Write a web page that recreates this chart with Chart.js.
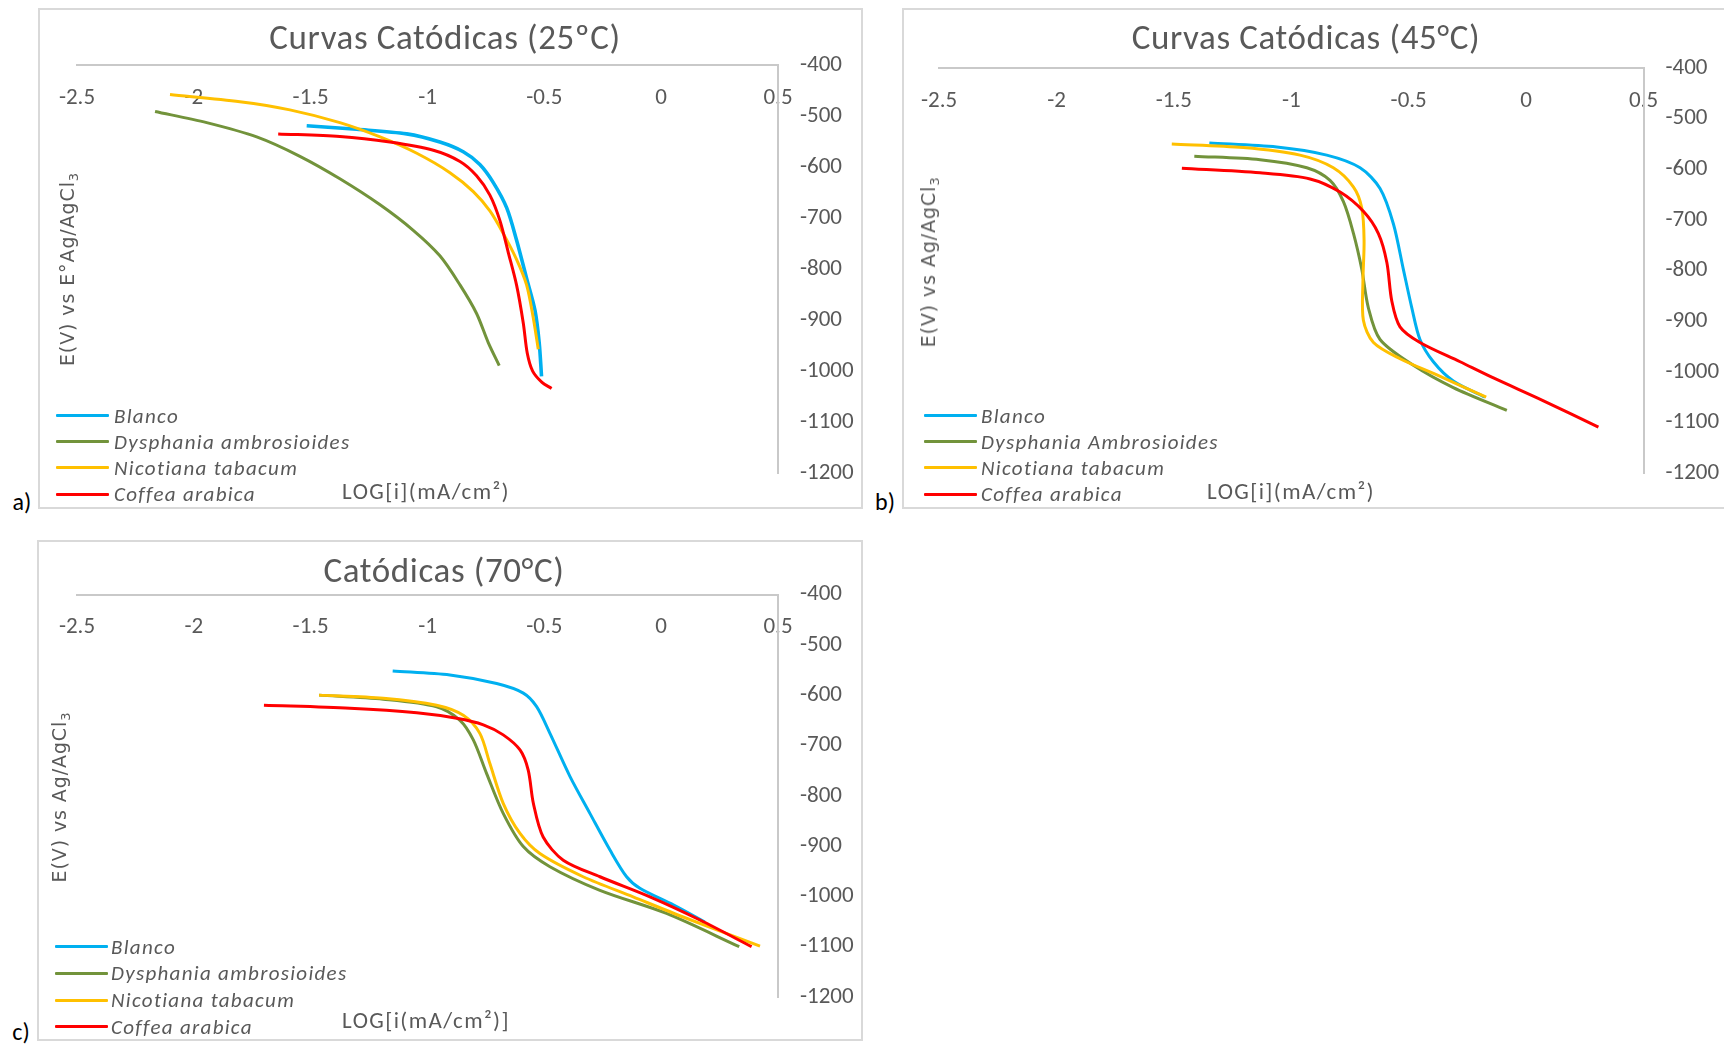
<!DOCTYPE html>
<html lang="es">
<head>
<meta charset="utf-8">
<title>Curvas catódicas</title>
<script src="https://cdn.jsdelivr.net/npm/chart.js@4.4.1/dist/chart.umd.min.js"></script>
<style>
    html, body { margin: 0; padding: 0; background: #fff; }
    body {
        width: 1724px; height: 1044px; position: relative; overflow: hidden;
        font-family: Carlito, Calibri, Lato, sans-serif; color: #595959;
    }
    .box { position: absolute; border: 2px solid #d9d9d9; box-sizing: border-box; }
    canvas { position: absolute; }
    .title {
        position: absolute; transform: translate(-50%, -50%);
        white-space: nowrap; font-size: 35px; letter-spacing: 0.6px; line-height: 1;
    }
    .ytitle {
        position: absolute; transform: translate(-50%, -50%) rotate(-90deg);
        font-family: 'DejaVu Sans', sans-serif; font-size: 19px; letter-spacing: 0.9px;
        white-space: nowrap; line-height: 1;
    }
    .ytitle sub { font-size: 13px; vertical-align: -4px; }
    .xtitle {
        position: absolute; transform: translate(-50%, -50%);
        white-space: nowrap; font-size: 23px; letter-spacing: 1.4px; line-height: 1;
    }
    .tag { position: absolute; transform: translate(-50%, -50%); font-size: 24px; color: #000; line-height: 1; }
    .leg { position: absolute; height: 3px; border-radius: 1px; }
    .legtext {
        position: absolute; transform: translateY(-50%); font-style: italic;
        font-size: 21px; letter-spacing: 1.3px; white-space: nowrap; line-height: 1;
    }
</style>
</head>
<body>

<script>
// Curvas catódicas: LOG[i] (mA/cm²) contra E (mV vs Ag/AgCl) a 25, 45 y 70 °C

const seriesNames = ['Blanco', 'Dysphania ambrosioides', 'Nicotiana tabacum', 'Coffea arabica'];
const seriesNames45 = ['Blanco', 'Dysphania Ambrosioides', 'Nicotiana tabacum', 'Coffea arabica'];
const seriesColors = ['#00B0F0', '#72933B', '#FFC000', '#FF0000'];

const xTicks = [-2.5, -2, -1.5, -1, -0.5, 0, 0.5];
const yTicks = [-1200, -1100, -1000, -900, -800, -700, -600, -500, -400];

// 25 °C
const blanco25LogI = [-1.517, -1.303, -1.089, -0.947, -0.847, -0.776, -0.719, -0.661, -0.619, -0.576, -0.540, -0.522, -0.512];
const blanco25E    = [-519, -526, -535, -551, -570, -595, -630, -680, -743, -818, -881, -944, -1010];
const dysph25LogI  = [-2.166, -1.945, -1.731, -1.546, -1.375, -1.203, -1.061, -0.947, -0.861, -0.790, -0.740, -0.693];
const dysph25E     = [-491, -513, -541, -579, -623, -674, -724, -774, -831, -887, -944, -989];
const nicot25LogI  = [-2.102, -1.803, -1.589, -1.375, -1.203, -1.046, -0.904, -0.804, -0.733, -0.676, -0.619, -0.576, -0.548, -0.526];
const nicot25E     = [-458, -472, -488, -513, -541, -573, -611, -648, -686, -730, -781, -831, -894, -957];
const coffea25LogI = [-1.639, -1.375, -1.161, -0.975, -0.861, -0.790, -0.733, -0.690, -0.654, -0.619, -0.590, -0.573, -0.550, -0.510, -0.469];
const coffea25E    = [-535, -540, -551, -567, -589, -617, -655, -705, -768, -831, -906, -965, -1000, -1022, -1034];

// 45 °C
const blanco45LogI = [-1.349, -1.062, -0.849, -0.707, -0.622, -0.565, -0.523, -0.487, -0.452, -0.395, -0.310, -0.175];
const blanco45E    = [-548, -556, -572, -597, -638, -708, -797, -873, -936, -980, -1018, -1050];
const dysph45LogI  = [-1.413, -1.133, -0.934, -0.835, -0.778, -0.735, -0.700, -0.672, -0.622, -0.480, -0.310, -0.082];
const dysph45E     = [-574, -581, -597, -622, -664, -727, -797, -873, -936, -987, -1031, -1076];
const nicot45LogI  = [-1.509, -1.204, -0.963, -0.821, -0.735, -0.700, -0.690, -0.695, -0.693, -0.650, -0.537, -0.380, -0.170];
const nicot45E     = [-550, -557, -572, -597, -635, -676, -740, -822, -898, -942, -974, -1006, -1050];
const coffea45LogI = [-1.466, -1.133, -0.920, -0.792, -0.693, -0.629, -0.593, -0.572, -0.537, -0.452, -0.281, -0.139, 0.074, 0.308];
const coffea45E    = [-598, -607, -619, -645, -683, -727, -784, -860, -911, -942, -980, -1012, -1057, -1109];

// 70 °C
const blanco70LogI = [-1.149, -0.904, -0.704, -0.590, -0.533, -0.476, -0.390, -0.305, -0.219, -0.148, -0.091, 0.052, 0.187];
const blanco70E    = [-552, -560, -577, -596, -623, -676, -762, -835, -908, -961, -984, -1017, -1051];
const dysph70LogI  = [-1.464, -1.189, -0.961, -0.861, -0.804, -0.747, -0.676, -0.590, -0.476, -0.262, 0.023, 0.334];
const dysph70E     = [-600, -608, -623, -650, -689, -756, -835, -901, -941, -988, -1034, -1100];
const nicot70LogI  = [-1.464, -1.189, -0.961, -0.847, -0.776, -0.733, -0.676, -0.604, -0.519, -0.334, -0.120, 0.094, 0.423];
const nicot70E     = [-600, -606, -620, -640, -676, -736, -815, -875, -915, -961, -1001, -1041, -1099];
const coffea70LogI = [-1.700, -1.332, -1.046, -0.875, -0.761, -0.676, -0.604, -0.569, -0.547, -0.505, -0.419, -0.262, -0.048, 0.166, 0.387];
const coffea70E    = [-620, -626, -635, -646, -659, -679, -709, -749, -815, -882, -928, -961, -1001, -1047, -1100];

const FONT = 'Carlito, Calibri, Lato, sans-serif';

const panels = [
    {
        tag: 'a)', title: 'Curvas Catódicas (25ºC)', names: seriesNames,
        ytitle: 'E(V) vs E°Ag/AgCl', xtitle: 'LOG[i](mA/cm²)',
        series: [[blanco25LogI, blanco25E], [dysph25LogI, dysph25E], [nicot25LogI, nicot25E], [coffea25LogI, coffea25E]],
        widths: [3.6, 3, 3, 3],
        box: { left: 38, top: 8, width: 825, height: 501 },
        plot: { left: 77, top: 65, right: 778, bottom: 489 },
        titlePos: [445, 37], yTitlePos: [69, 269], xTitlePos: [426, 491],
        tagPos: [22, 502], legend: { x: 56, text: 114, rows: [415.7, 441.7, 467.7, 494] }
    },
    {
        tag: 'b)', title: 'Curvas Catódicas (45°C)', names: seriesNames45,
        ytitle: 'E(V) vs Ag/AgCl', xtitle: 'LOG[i](mA/cm²)',
        series: [[blanco45LogI, blanco45E], [dysph45LogI, dysph45E], [nicot45LogI, nicot45E], [coffea45LogI, coffea45E]],
        widths: [3, 3, 3, 3],
        box: { left: 902, top: 8, width: 824, height: 501 },
        plot: { left: 939, top: 68, right: 1643.5, bottom: 489 },
        titlePos: [1306, 37], yTitlePos: [930, 262], xTitlePos: [1291, 491],
        tagPos: [885, 502], legend: { x: 923.5, text: 981, rows: [415.7, 441.7, 467.7, 494] }
    },
    {
        tag: 'c)', title: 'Catódicas (70°C)', names: seriesNames,
        ytitle: 'E(V) vs Ag/AgCl', xtitle: 'LOG[i(mA/cm²)]',
        series: [[blanco70LogI, blanco70E], [dysph70LogI, dysph70E], [nicot70LogI, nicot70E], [coffea70LogI, coffea70E]],
        widths: [3, 3, 3, 3],
        box: { left: 37, top: 540, width: 826, height: 501 },
        plot: { left: 77, top: 594.5, right: 778, bottom: 997 },
        titlePos: [444, 570], yTitlePos: [61, 797], xTitlePos: [426, 1020],
        tagPos: [21, 1032], legend: { x: 54.5, text: 111, rows: [946.7, 973.3, 1000, 1026.7] }
    }
];

// ancho reservado para las etiquetas del eje vertical (las etiquetas se recortan a este ancho)
const Y_AXIS_W = 80;

function addText(cls, text, x, y) {
    const el = document.createElement('div');
    el.className = cls;
    el.innerHTML = text;
    el.style.left = x + 'px';
    el.style.top = y + 'px';
    document.body.appendChild(el);
    return el;
}

function buildPanel(p) {
    const box = document.createElement('div');
    box.className = 'box';
    Object.assign(box.style, {
        left: p.box.left + 'px', top: p.box.top + 'px',
        width: p.box.width + 'px', height: p.box.height + 'px'
    });
    document.body.appendChild(box);

    const canvas = document.createElement('canvas');
    canvas.width = p.box.width;
    canvas.height = p.box.height;
    canvas.style.left = p.box.left + 'px';
    canvas.style.top = p.box.top + 'px';
    document.body.appendChild(canvas);

    const boxRight = p.box.left + p.box.width;
    const boxBottom = p.box.top + p.box.height;

    const datasets = p.series.map(([xs, ys], i) => ({
        label: p.names[i],
        data: xs.map((x, k) => ({ x: x, y: ys[k] })),
        showLine: true,
        borderColor: seriesColors[i],
        backgroundColor: seriesColors[i],
        borderWidth: p.widths[i],
        pointRadius: 0,
        tension: 0.3,
        order: 4 - i
    }));

    new Chart(canvas.getContext('2d'), {
        type: 'scatter',
        data: { datasets: datasets },
        options: {
            responsive: false,
            animation: false,
            devicePixelRatio: 1,
            layout: {
                padding: {
                    left: p.plot.left - p.box.left,
                    top: p.plot.top - p.box.top,
                    bottom: boxBottom - p.plot.bottom,
                    right: boxRight - p.plot.right - Y_AXIS_W
                }
            },
            plugins: {
                legend: { display: false },
                tooltip: { enabled: false },
                title: { display: false }
            },
            scales: {
                x: {
                    type: 'linear',
                    min: xTicks[0],
                    max: xTicks[xTicks.length - 1],
                    // eje horizontal cruzando en -400, etiquetas por debajo de la línea
                    position: { y: yTicks[yTicks.length - 1] },
                    grid: { display: false, drawTicks: false },
                    border: { display: true, color: '#c9c9c9', width: 2 },
                    afterBuildTicks: (scale) => { scale.ticks = xTicks.map(v => ({ value: v })); },
                    ticks: {
                        autoSkip: false,
                        maxRotation: 0,
                        padding: 19,
                        color: '#595959',
                        font: { family: FONT, size: 23 },
                        callback: (v) => String(Math.round(v * 10) / 10)
                    }
                },
                y: {
                    type: 'linear',
                    min: yTicks[0],
                    max: yTicks[yTicks.length - 1],
                    position: 'right',
                    grid: { display: false, drawTicks: false },
                    border: { display: true, color: '#c9c9c9', width: 2 },
                    afterBuildTicks: (scale) => { scale.ticks = yTicks.map(v => ({ value: v })); },
                    afterFit: (scale) => { scale.width = Y_AXIS_W; },
                    ticks: {
                        padding: 22,
                        color: '#595959',
                        font: { family: FONT, size: 23 },
                        callback: (v) => String(v)
                    }
                }
            }
        }
    });

    addText('title', p.title, p.titlePos[0], p.titlePos[1]);
    addText('ytitle', p.ytitle + '<sub>3</sub>', p.yTitlePos[0], p.yTitlePos[1]);
    addText('xtitle', p.xtitle, p.xTitlePos[0], p.xTitlePos[1]);
    addText('tag', p.tag, p.tagPos[0], p.tagPos[1]);

    // leyenda vertical abajo a la izquierda
    p.names.forEach((name, i) => {
        const y = p.legend.rows[i];
        const line = document.createElement('div');
        line.className = 'leg';
        Object.assign(line.style, {
            left: p.legend.x + 'px', top: (y - 1.5) + 'px', width: '53px', background: seriesColors[i]
        });
        document.body.appendChild(line);
        addText('legtext', name, p.legend.text, y);
    });
}

panels.forEach(buildPanel);
</script>
</body>
</html>
